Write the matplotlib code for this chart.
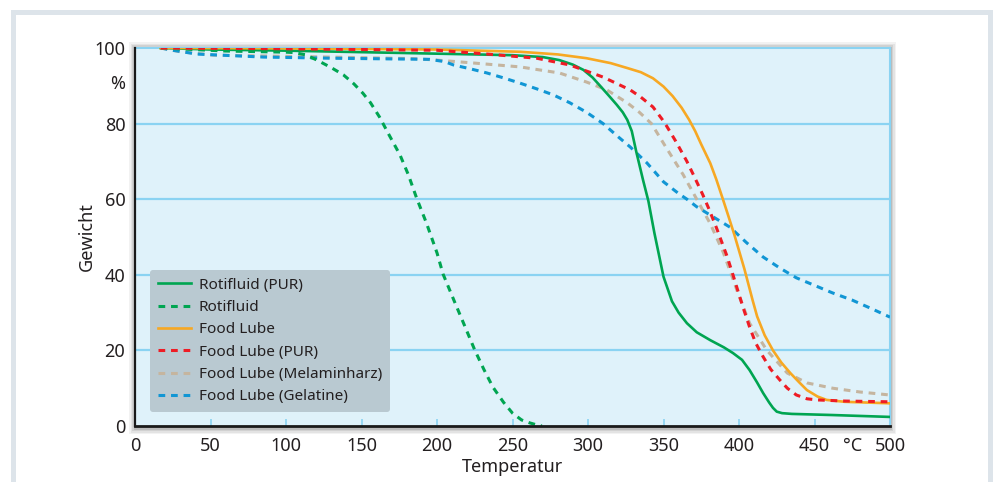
import matplotlib
matplotlib.use("Agg")
import matplotlib.pyplot as plt
from matplotlib.patches import Rectangle

# ---- data ----
rotipur_t = [17, 50, 100, 150, 200, 250, 270, 281, 290, 297, 303, 308, 314, 319, 323, 326, 329,
             332, 336.5, 340, 344, 350, 355.6, 360, 365.5, 372, 381, 390, 396, 402, 407, 412,
             416, 420, 422.5, 425, 428.5, 435, 462, 500]
rotipur_w = [100, 99.6, 99.3, 98.9, 98.5, 98.1, 97.6, 96.8, 95.6, 94.2, 92.2, 90, 87.3, 85, 83,
             81, 78, 72.5, 65, 59.5, 51, 39.5, 33, 30, 27.2, 24.8, 22.7, 20.8, 19.3, 17.5, 14.8,
             11.5, 8.7, 6.2, 4.8, 3.8, 3.4, 3.2, 2.9, 2.4]

roti_t = [17, 60, 100, 105, 113, 120.5, 130, 138, 145, 151, 156, 162, 168, 175.5, 181, 186.5,
          193, 200, 204, 212, 218, 225, 231, 237, 244, 250, 256, 261.6, 266, 269.5]
roti_w = [100, 99.2, 98.9, 98.8, 98.2, 96.8, 94.8, 92.9, 90.5, 88, 85.5, 81.7, 77.2, 71.7, 66.5,
          60.3, 53.7, 45.8, 40.2, 32.5, 26.8, 20.1, 15, 10.3, 6.3, 3.4, 1.6, 0.8, 0.3, 0]

food_t = [17, 100, 200, 255, 280, 299, 315, 326, 335, 343, 350, 356, 362, 367, 371, 375, 381,
          385, 389.5, 393, 397, 403.6, 409, 412, 417, 422.5, 428, 434, 440, 445, 452, 458, 470,
          485, 500]
food_w = [100, 99.9, 99.6, 99, 98.3, 97.3, 96, 94.7, 93.6, 92, 89.8, 87.3, 84.2, 81, 78, 74.5,
          69.5, 65.2, 59.8, 55.5, 50.5, 41.5, 33.3, 29, 24, 20, 16.8, 14, 11.5, 9.5, 7.8, 6.9,
          6.4, 6.2, 6]

foodpur_t = [17, 100, 200, 233, 266, 288, 310, 319, 328, 335, 343, 349, 352, 358, 365.5, 370,
             376, 380, 385, 392, 396, 398.7, 403, 407, 411, 416, 421, 427, 432, 438, 445, 451.6,
             470, 500]
foodpur_w = [100, 99.8, 99.4, 98.4, 97.3, 95.5, 92.3, 90.6, 88.9, 87, 84.4, 81.2, 79.4, 75.4,
             70, 66.3, 61.2, 57.5, 52.5, 45, 40, 36.5, 31, 26.2, 22, 18.3, 15, 12.2, 10, 8.2, 7.2,
             6.9, 6.6, 6.4]

melamin_t = [17, 30, 52, 85, 129, 184, 200, 222, 255, 281, 299, 312.5, 326, 334, 342, 352, 363,
             372, 381, 389.5, 395, 399, 407, 418.5, 432, 445, 462, 480, 500]
melamin_w = [100, 99, 98.1, 97.9, 97.6, 97.2, 96.8, 96.1, 95, 93.4, 91, 88.9, 85.5, 83, 80,
             73.5, 66.5, 60, 53.5, 46, 40, 35.5, 27.2, 20, 14, 11.4, 10, 9, 8.2]

gelatine_t = [17, 25, 41, 85, 129, 195, 205, 211, 222, 233, 244, 255, 266, 277, 288, 299, 310,
              320, 328, 339, 350, 360, 365.5, 372, 383, 394, 405, 416, 427, 438, 450, 462, 475,
              488, 500]
gelatine_w = [100, 99.4, 98.4, 97.6, 97.3, 97, 96.4, 95.5, 94.5, 93.4, 92.1, 90.7, 89.2, 87.6,
              85.5, 83, 80, 76.5, 73.8, 69.6, 64.6, 61.5, 60, 58, 55.3, 52.6, 48.5, 44.7, 41.8,
              39.2, 37.2, 35.2, 33.3, 31, 28.8]

x_ticks = [0, 50, 100, 150, 200, 250, 300, 350, 400, 450, 500]
y_ticks = [0, 20, 40, 60, 80, 91, 100]
y_labels = ["0", "20", "40", "60", "80", "%", "100"]

plt.rcParams["font.family"] = ["Noto Sans", "DejaVu Sans"]
txt = "#231f20"
gridblue = "#8ad3f2"
dash = (0, (2.2, 1.9))

fig = plt.figure(figsize=(9.98, 4.82), dpi=100)
fig.patch.set_facecolor("white")

# outer grey frame
fig.add_artist(Rectangle((12.5 / 998, -0.2), (990 - 12.5) / 998, 1.2 - 11.5 / 482,
                         transform=fig.transFigure, fill=False, ec="#dde4ea", lw=3.6))

l, b, w, h = 135 / 998, 1 - 426 / 482, 755 / 998, 378 / 482
# soft shadow around the plot area
for i, a in enumerate([0.05, 0.06, 0.08, 0.1]):
    d = (4 - i) * 1.5
    fig.add_artist(Rectangle((l - d / 998, b - (d + 2) / 482), w + 2 * d / 998, h + (2 * d + 2) / 482,
                             transform=fig.transFigure, fc="#000000", ec="none", alpha=a, zorder=0))

ax = fig.add_axes([l, b, w, h])
ax.set_facecolor("#dff2fa")

for yv in [20, 40, 60, 80]:
    ax.axhline(yv, color=gridblue, lw=1.6, zorder=1)

ax.plot(rotipur_t, rotipur_w, color="#00a551", lw=1.9, label="Rotifluid (PUR)", zorder=3)
ax.plot(roti_t, roti_w, color="#00a551", lw=2.2, ls=dash, label="Rotifluid", zorder=3)
ax.plot(food_t, food_w, color="#f7a823", lw=1.9, label="Food Lube", zorder=3)
ax.plot(foodpur_t, foodpur_w, color="#ee1c25", lw=2.2, ls=dash, label="Food Lube (PUR)", zorder=3)
ax.plot(melamin_t, melamin_w, color="#c5b59f", lw=2.2, ls=dash,
        label="Food Lube (Melaminharz)", zorder=2.5)
ax.plot(gelatine_t, gelatine_w, color="#1196d4", lw=2.2, ls=dash,
        label="Food Lube (Gelatine)", zorder=2.6)

ax.set_xlim(0, 500)
ax.set_ylim(0, 100)

ax.set_xticks(x_ticks)
ax.set_xticklabels([str(v) for v in x_ticks])
ax.set_xticks([475], minor=True)
ax.set_xticklabels(["°C"], minor=True)
ax.set_yticks(y_ticks)
ax.set_yticklabels(y_labels)

ax.tick_params(axis="x", which="major", direction="in", length=5, width=1.2, color=gridblue,
               labelsize=13, labelcolor=txt, pad=8)
ax.tick_params(axis="x", which="minor", length=0, labelsize=13, labelcolor=txt, pad=8)
ax.tick_params(axis="y", length=0, labelsize=13, labelcolor=txt, pad=7)

for s in ["top", "right"]:
    ax.spines[s].set_color(gridblue)
    ax.spines[s].set_linewidth(1.5)
ax.spines["left"].set_color("#1a1a1a")
ax.spines["left"].set_linewidth(1.6)
ax.spines["bottom"].set_color("#1a1a1a")
ax.spines["bottom"].set_linewidth(2.0)
ax.spines["left"].set_zorder(4)
ax.spines["bottom"].set_zorder(4)

ax.set_xlabel("Temperatur", fontsize=13, color=txt, labelpad=2)
ax.set_ylabel("Gewicht", fontsize=13, color=txt)
ax.yaxis.set_label_coords(-0.052, 0.5)

leg = ax.legend(loc="lower left", bbox_to_anchor=(0.02, 0.037), borderaxespad=0,
                fontsize=11, frameon=True, fancybox=True, handlelength=2.2,
                handletextpad=0.5, labelspacing=0.48, borderpad=0.5)
frame = leg.get_frame()
frame.set_facecolor("#b9c9d1")
frame.set_edgecolor("none")
frame.set_alpha(1)
for t in leg.get_texts():
    t.set_color(txt)

fig.savefig("out.png", dpi=100)
